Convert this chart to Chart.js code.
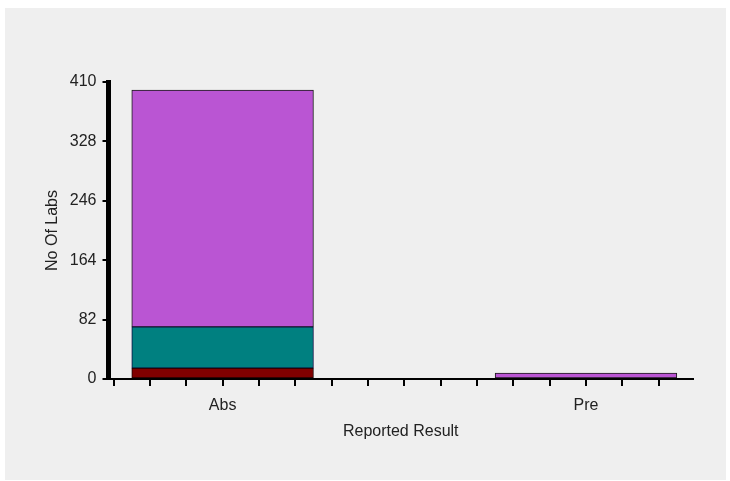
<!DOCTYPE html>
<html>
<head>
<meta charset="utf-8">
<script src="https://cdn.jsdelivr.net/npm/chart.js@4/dist/chart.umd.min.js"></script>
<style>
  html, body { margin: 0; padding: 0; background: #ffffff; }
  #wrap { width: 730px; height: 481px; }
</style>
</head>
<body>
<div id="wrap"><canvas id="c" width="730" height="481"></canvas></div>
<script>
// ---- data ----
const categories = ['Abs', 'Pre'];
const maroonValues = [15, 0];
const tealValues = [57, 0];
const orchidValues = [327, 8];
const yTickValues = [0, 82, 164, 246, 328, 410];
const xTitle = 'Reported Result';
const yTitle = 'No Of Labs';

const toPoints = arr => arr.map((v, i) => ({ x: i, y: v }));

const bgPlugin = {
  id: 'bg',
  beforeDraw(chart) {
    const ctx = chart.ctx;
    ctx.save();
    ctx.fillStyle = '#ffffff';
    ctx.fillRect(0, 0, chart.width, chart.height);
    ctx.fillStyle = '#efefef';
    ctx.fillRect(5, 8, 721, 472);
    ctx.restore();
  }
};

const font = { family: '"Liberation Sans", Arial, sans-serif', size: 16 };

new Chart(document.getElementById('c'), {
  type: 'bar',
  data: {
    datasets: [
      { label: 'maroon', data: toPoints(maroonValues), backgroundColor: '#800000', borderColor: '#1a0000', borderWidth: 1, borderSkipped: false },
      { label: 'teal', data: toPoints(tealValues), backgroundColor: '#008080', borderColor: '#0a0a40', borderWidth: 1, borderSkipped: false },
      { label: 'orchid', data: toPoints(orchidValues), backgroundColor: '#ba55d3', borderColor: '#1a1a1a', borderWidth: 1, borderSkipped: false }
    ]
  },
  options: {
    responsive: false,
    animation: false,
    events: [],
    layout: { padding: { left: 0, top: 82, right: 37, bottom: 0 } },
    datasets: { bar: { barThickness: 'flex', barPercentage: 0.5, categoryPercentage: 1.0 } },
    plugins: { legend: { display: false }, tooltip: { enabled: false } },
    scales: {
      x: {
        type: 'linear',
        stacked: true,
        offset: false,
        min: -0.314,
        max: 1.2945,
        afterFit(scale) { scale.height = 102; },
        afterBuildTicks(scale) {
          const t = [];
          for (let i = -3; i <= 12; i++) t.push({ value: i / 10 });
          scale.ticks = t;
        },
        ticks: {
          autoSkip: false,
          maxRotation: 0,
          padding: 10,
          color: '#222',
          font: font,
          callback(v) {
            const r = Math.round(v * 10);
            if (r % 10 === 0 && categories[r / 10] !== undefined) return categories[r / 10];
            return '';
          }
        },
        grid: { display: true, offset: false, drawOnChartArea: false, drawTicks: true, tickLength: 7, color: '#000', lineWidth: 2 },
        border: { display: true, color: '#000', width: 2 },
        title: { display: true, text: xTitle, color: '#222', font: font, padding: { top: 0, bottom: 40 } }
      },
      y: {
        stacked: true,
        min: 0,
        max: 410,
        afterFit(scale) { scale.width = 108.5; },
        afterBuildTicks(scale) { scale.ticks = yTickValues.map(v => ({ value: v })); },
        ticks: { padding: 6, color: '#222', font: font },
        grid: { display: true, drawOnChartArea: false, drawTicks: true, tickLength: 6, color: '#000', lineWidth: 2 },
        border: { display: true, color: '#000', width: 5 },
        title: { display: true, text: yTitle, color: '#222', font: font, padding: { top: 43, bottom: 0 } }
      }
    }
  },
  plugins: [bgPlugin]
});
</script>
</body>
</html>
